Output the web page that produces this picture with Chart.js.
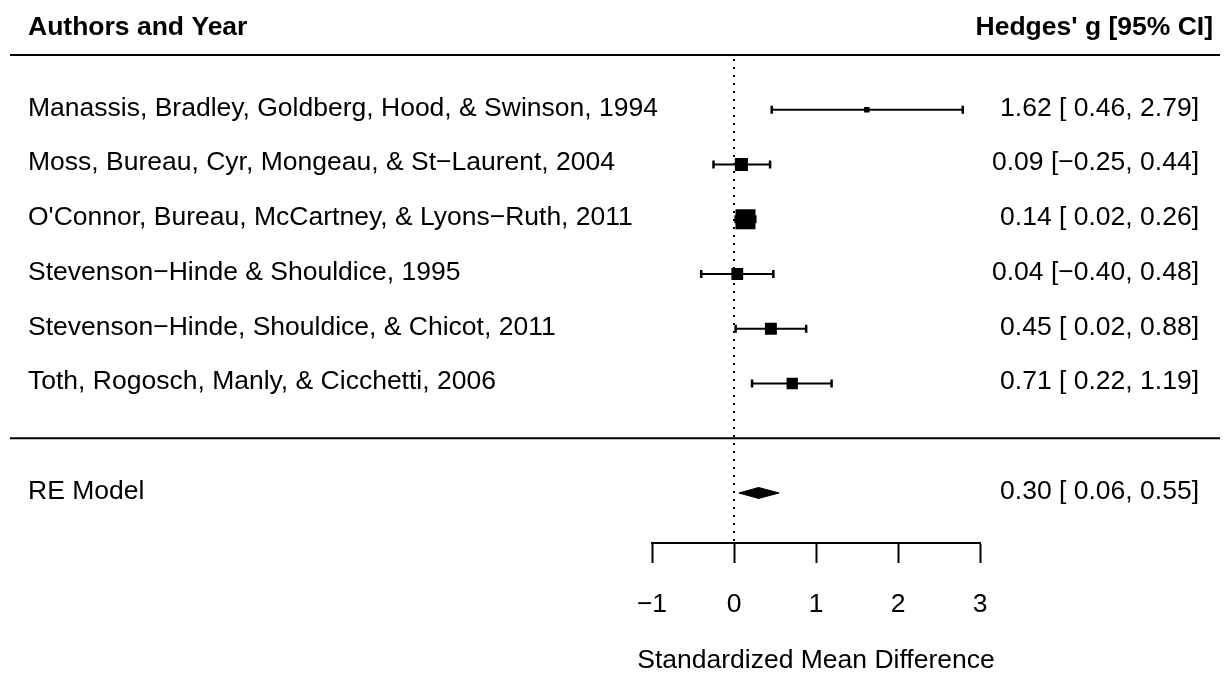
<!DOCTYPE html>
<html>
<head>
<meta charset="utf-8">
<script src="https://cdn.jsdelivr.net/npm/chart.js@4"></script>
<style>
  body { margin: 0; background: #fff; }
  #wrap { width: 1229px; height: 673px; }
</style>
</head>
<body>
<div id="wrap"><canvas id="forest" width="1229" height="673"></canvas></div>
<script>
// study data
var studies = [
    'Manassis, Bradley, Goldberg, Hood, & Swinson, 1994',
    'Moss, Bureau, Cyr, Mongeau, & St\u2212Laurent, 2004',
    "O'Connor, Bureau, McCartney, & Lyons\u2212Ruth, 2011",
    'Stevenson\u2212Hinde & Shouldice, 1995',
    'Stevenson\u2212Hinde, Shouldice, & Chicot, 2011',
    'Toth, Rogosch, Manly, & Cicchetti, 2006'
];
var estimates = [1.62, 0.09, 0.14, 0.04, 0.45, 0.71];
var lowerCI = [0.46, -0.25, 0.02, -0.40, 0.02, 0.22];
var upperCI = [2.79, 0.44, 0.26, 0.48, 0.88, 1.19];

var summaryLabel = 'RE Model';
var summaryEst = 0.30;
var summaryLower = 0.06;
var summaryUpper = 0.55;

var xTicks = [-1, 0, 1, 2, 3];
var xTitle = 'Standardized Mean Difference';
var headLeft = 'Authors and Year';
var headRight = "Hedges' g [95% CI]";

var FONT = '"Liberation Sans", Arial, Helvetica, sans-serif';
var FSIZE = 26.5;
Chart.defaults.font.family = FONT;
Chart.defaults.color = '#000';

var k = studies.length;
var rowY = studies.map(function (s, i) { return k - i; });
var summaryY = -1;

var minus = function (v) {
    return v < 0 ? '\u2212' + Math.abs(v).toFixed(2) : v.toFixed(2);
};
var padNum = function (v) {
    return v < 0 ? minus(v) : ' ' + v.toFixed(2);
};
var ciText = function (e, lo, hi) {
    return minus(e) + ' [' + padNum(lo) + ', ' + minus(hi) + ']';
};

// square size from inverse standard error, like metafor does
var wi = lowerCI.map(function (lo, i) { return 3.92 / (upperCI[i] - lo); });
var wMin = Math.min.apply(null, wi), wMax = Math.max.apply(null, wi);
var sides = wi.map(function (w) { return 5.5 + 14.5 * Math.sqrt((w - wMin) / (wMax - wMin)); });

var datasets = [];

datasets.push({
    label: 'estimates',
    data: estimates.map(function (e, i) { return { x: e, y: rowY[i] }; }),
    pointStyle: 'rect',
    pointRadius: sides.map(function (s) { return s / Math.SQRT2; }),
    backgroundColor: '#000',
    borderWidth: 0,
    showLine: false,
    order: 0
});

estimates.forEach(function (e, i) {
    datasets.push({
        label: 'ci' + i,
        data: [{ x: lowerCI[i], y: rowY[i] }, { x: upperCI[i], y: rowY[i] }],
        showLine: true,
        borderColor: '#000',
        borderWidth: 2,
        pointStyle: 'line',
        rotation: 90,
        pointRadius: 4,
        pointBorderWidth: 2.5,
        pointBorderColor: '#000',
        order: 1
    });
});

datasets.push({
    label: 'summary',
    data: [
        { x: summaryLower, y: summaryY },
        { x: summaryEst, y: summaryY + 0.1 },
        { x: summaryUpper, y: summaryY },
        { x: summaryEst, y: summaryY - 0.1 },
        { x: summaryLower, y: summaryY }
    ],
    showLine: true,
    fill: 'shape',
    borderColor: '#000',
    borderWidth: 1,
    backgroundColor: '#000',
    pointRadius: 0,
    order: 1
});

datasets.push({
    label: 'refline',
    data: [{ x: 0, y: 6.93 }, { x: 0, y: -1.914 }],
    showLine: true,
    borderColor: '#000',
    borderWidth: 2,
    borderDash: [2, 6],
    pointRadius: 0,
    order: 3
});

// table text, rules and axis title around the plotting region
var tableText = {
    id: 'tableText',
    afterDraw: function (chart) {
        var c = chart.ctx;
        var y = chart.scales.y;
        var x = chart.scales.x;
        var w = chart.width;
        c.save();
        c.strokeStyle = '#000';
        c.lineWidth = 2;
        [k + 1, 0].forEach(function (v) {
            var py = y.getPixelForValue(v);
            c.beginPath();
            c.moveTo(10, py);
            c.lineTo(w - 9, py);
            c.stroke();
        });

        c.fillStyle = '#000';
        c.textBaseline = 'middle';
        var off = -1.5;

        c.font = 'bold ' + FSIZE + 'px ' + FONT;
        c.textAlign = 'left';
        c.fillText(headLeft, 28, y.getPixelForValue(k + 1.5));
        c.textAlign = 'right';
        c.fillText(headRight, 1213, y.getPixelForValue(k + 1.5));

        c.font = FSIZE + 'px ' + FONT;
        studies.forEach(function (s, i) {
            var py = y.getPixelForValue(rowY[i]) + off;
            c.textAlign = 'left';
            c.fillText(s, 28, py);
            c.textAlign = 'right';
            c.fillText(ciText(estimates[i], lowerCI[i], upperCI[i]), 1199, py);
        });
        var sy = y.getPixelForValue(summaryY) + off;
        c.textAlign = 'left';
        c.fillText(summaryLabel, 28, sy);
        c.textAlign = 'right';
        c.fillText(ciText(summaryEst, summaryLower, summaryUpper), 1199, sy);

        // axis title (the built-in one gets squeezed to the axis width)
        c.textAlign = 'center';
        c.fillText(xTitle, (x.left + x.right) / 2, x.bottom - 12);
        c.restore();
    }
};

var ctx = document.getElementById('forest').getContext('2d');
var chart = new Chart(ctx, {
    type: 'scatter',
    data: { datasets: datasets },
    plugins: [tableText],
    options: {
        responsive: false,
        animation: false,
        layout: { padding: { left: 652, right: 249, top: 0, bottom: 0 } },
        plugins: { legend: { display: false }, tooltip: { enabled: false } },
        scales: {
            x: {
                type: 'linear',
                position: 'bottom',
                min: xTicks[0],
                max: xTicks[xTicks.length - 1],
                afterBuildTicks: function (scale) {
                    scale.ticks = xTicks.map(function (v) { return { value: v }; });
                },
                afterFit: function (scale) { scale.height = 130; },
                ticks: {
                    padding: 26,
                    maxRotation: 0,
                    font: { size: FSIZE },
                    color: '#000',
                    callback: function (v) { return v < 0 ? '\u2212' + Math.abs(v) : String(v); }
                },
                grid: {
                    drawOnChartArea: false,
                    drawTicks: true,
                    tickLength: 20,
                    tickColor: '#000',
                    tickWidth: 2
                },
                border: { display: true, color: '#000', width: 2 },
                title: { display: false }
            },
            y: {
                type: 'linear',
                display: false,
                min: -1.914,
                max: 7.748
            }
        }
    }
});
</script>
</body>
</html>
